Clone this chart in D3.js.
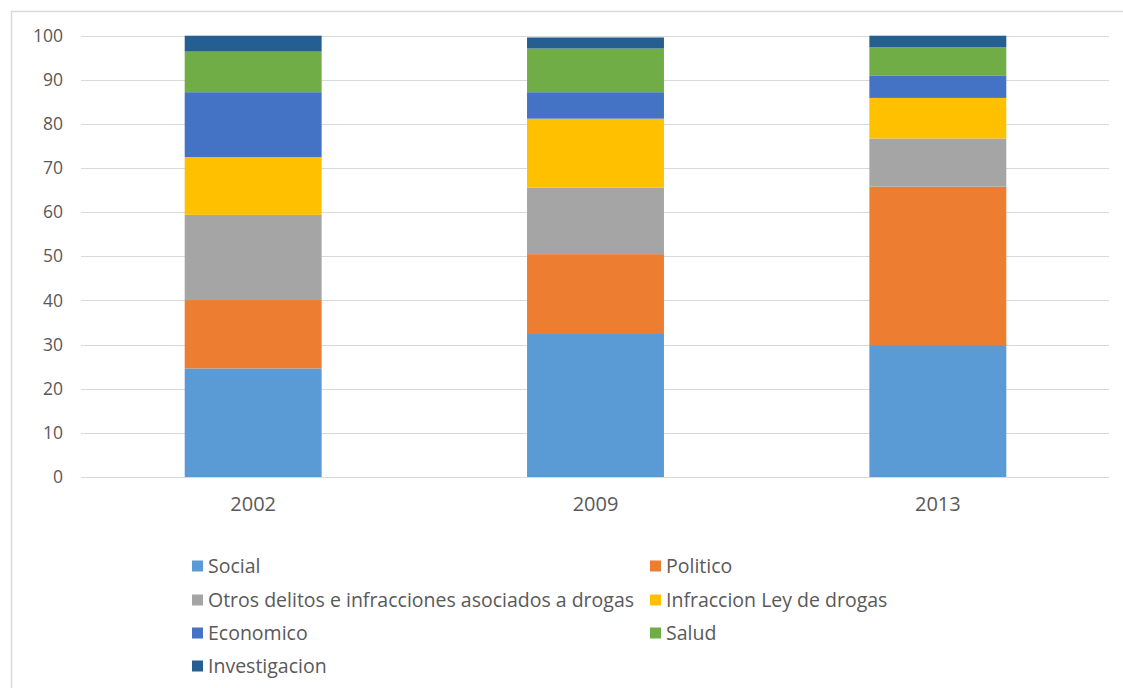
<!DOCTYPE html>
<html><head><meta charset="utf-8">
<script src="https://cdn.jsdelivr.net/npm/d3@7"></script>
<style>body{margin:0;background:#fff}svg{display:block}</style>
</head><body>
<script>
const years = ["2002","2009","2013"];
const seriesNames = ["Social","Politico","Otros delitos e infracciones asociados a drogas","Infraccion Ley de drogas","Economico","Salud","Investigacion"];
const social = [24.6, 32.4, 29.9];
const politico = [15.5, 18.1, 35.9];
const otros = [19.3, 15.1, 10.9];
const infraccion = [13.1, 15.6, 9.2];
const economico = [14.7, 6.0, 5.0];
const salud = [9.2, 9.9, 6.5];
const investigacion = [3.6, 2.5, 2.6];
const yTicks = [0,10,20,30,40,50,60,70,80,90,100];
const colors = ["#5B9BD5","#ED7D31","#A5A5A5","#FFC000","#4472C4","#70AD47","#255E91"];

const allSeries = [social, politico, otros, infraccion, economico, salud, investigacion];
const rows = years.map((yr, i) => {
  const o = {year: yr};
  seriesNames.forEach((s, j) => o[s] = allSeries[j][i]);
  return o;
});

const W = 1123, H = 688;
const svg = d3.select("body").append("svg").attr("width", W).attr("height", H);
const font = "'Open Sans', sans-serif";
const txt = "#595959";

// chart border
svg.append("path").attr("d", `M11.5,${H} V11.5 H${W}`).attr("fill","none").attr("stroke","#d9d9d9").attr("stroke-width",1.5);

const x = d3.scaleBand().domain(years).range([82, 1109]).paddingInner(0.6).paddingOuter(0.3);
const y = d3.scaleLinear().domain([0,100]).range([477, 35.7]);

// gridlines
svg.append("g").selectAll("line").data(yTicks).join("line")
  .attr("x1", 81).attr("x2", 1109)
  .attr("y1", d => Math.round(y(d))+0.5).attr("y2", d => Math.round(y(d))+0.5)
  .attr("stroke", "#d9d9d9").attr("stroke-width", 1);

// y axis labels
const yAxis = d3.axisLeft(y).tickValues(yTicks).tickSize(0).tickPadding(0);
const gy = svg.append("g").attr("transform","translate(63,0)").call(yAxis);
gy.select(".domain").remove();
gy.selectAll("text").attr("font-family", font).attr("font-size", 17.5).attr("fill", txt);

// stacked bars
const stack = d3.stack().keys(seriesNames)(rows);
svg.append("g").selectAll("g").data(stack).join("g")
  .attr("fill", (d,i) => colors[i])
  .selectAll("rect").data(d => d).join("rect")
  .attr("x", d => x(d.data.year))
  .attr("width", x.bandwidth())
  .attr("y", d => y(d[1]))
  .attr("height", d => y(d[0]) - y(d[1]));

// x axis labels
const xAxis = d3.axisBottom(x).tickSize(0).tickPadding(0);
const gx = svg.append("g").attr("transform","translate(0,497)").call(xAxis);
gx.select(".domain").remove();
gx.selectAll("text").attr("font-family", font).attr("font-size", 20).attr("fill", txt).attr("dy","0.71em");

// legend
const legX = [192, 650];
const legY = [566, 600, 633, 666];
const leg = svg.append("g").selectAll("g").data(seriesNames).join("g")
  .attr("transform", (d,i) => `translate(${legX[i%2]},${legY[Math.floor(i/2)]})`);
leg.append("rect").attr("x",0).attr("y",-5.5).attr("width",11).attr("height",11).attr("fill",(d,i)=>colors[i]);
leg.append("text").attr("x",16).attr("y",0).attr("dy","0.35em")
  .attr("font-family", font).attr("font-size", 19.5).attr("fill", txt).text(d => d);
</script>
</body></html>
